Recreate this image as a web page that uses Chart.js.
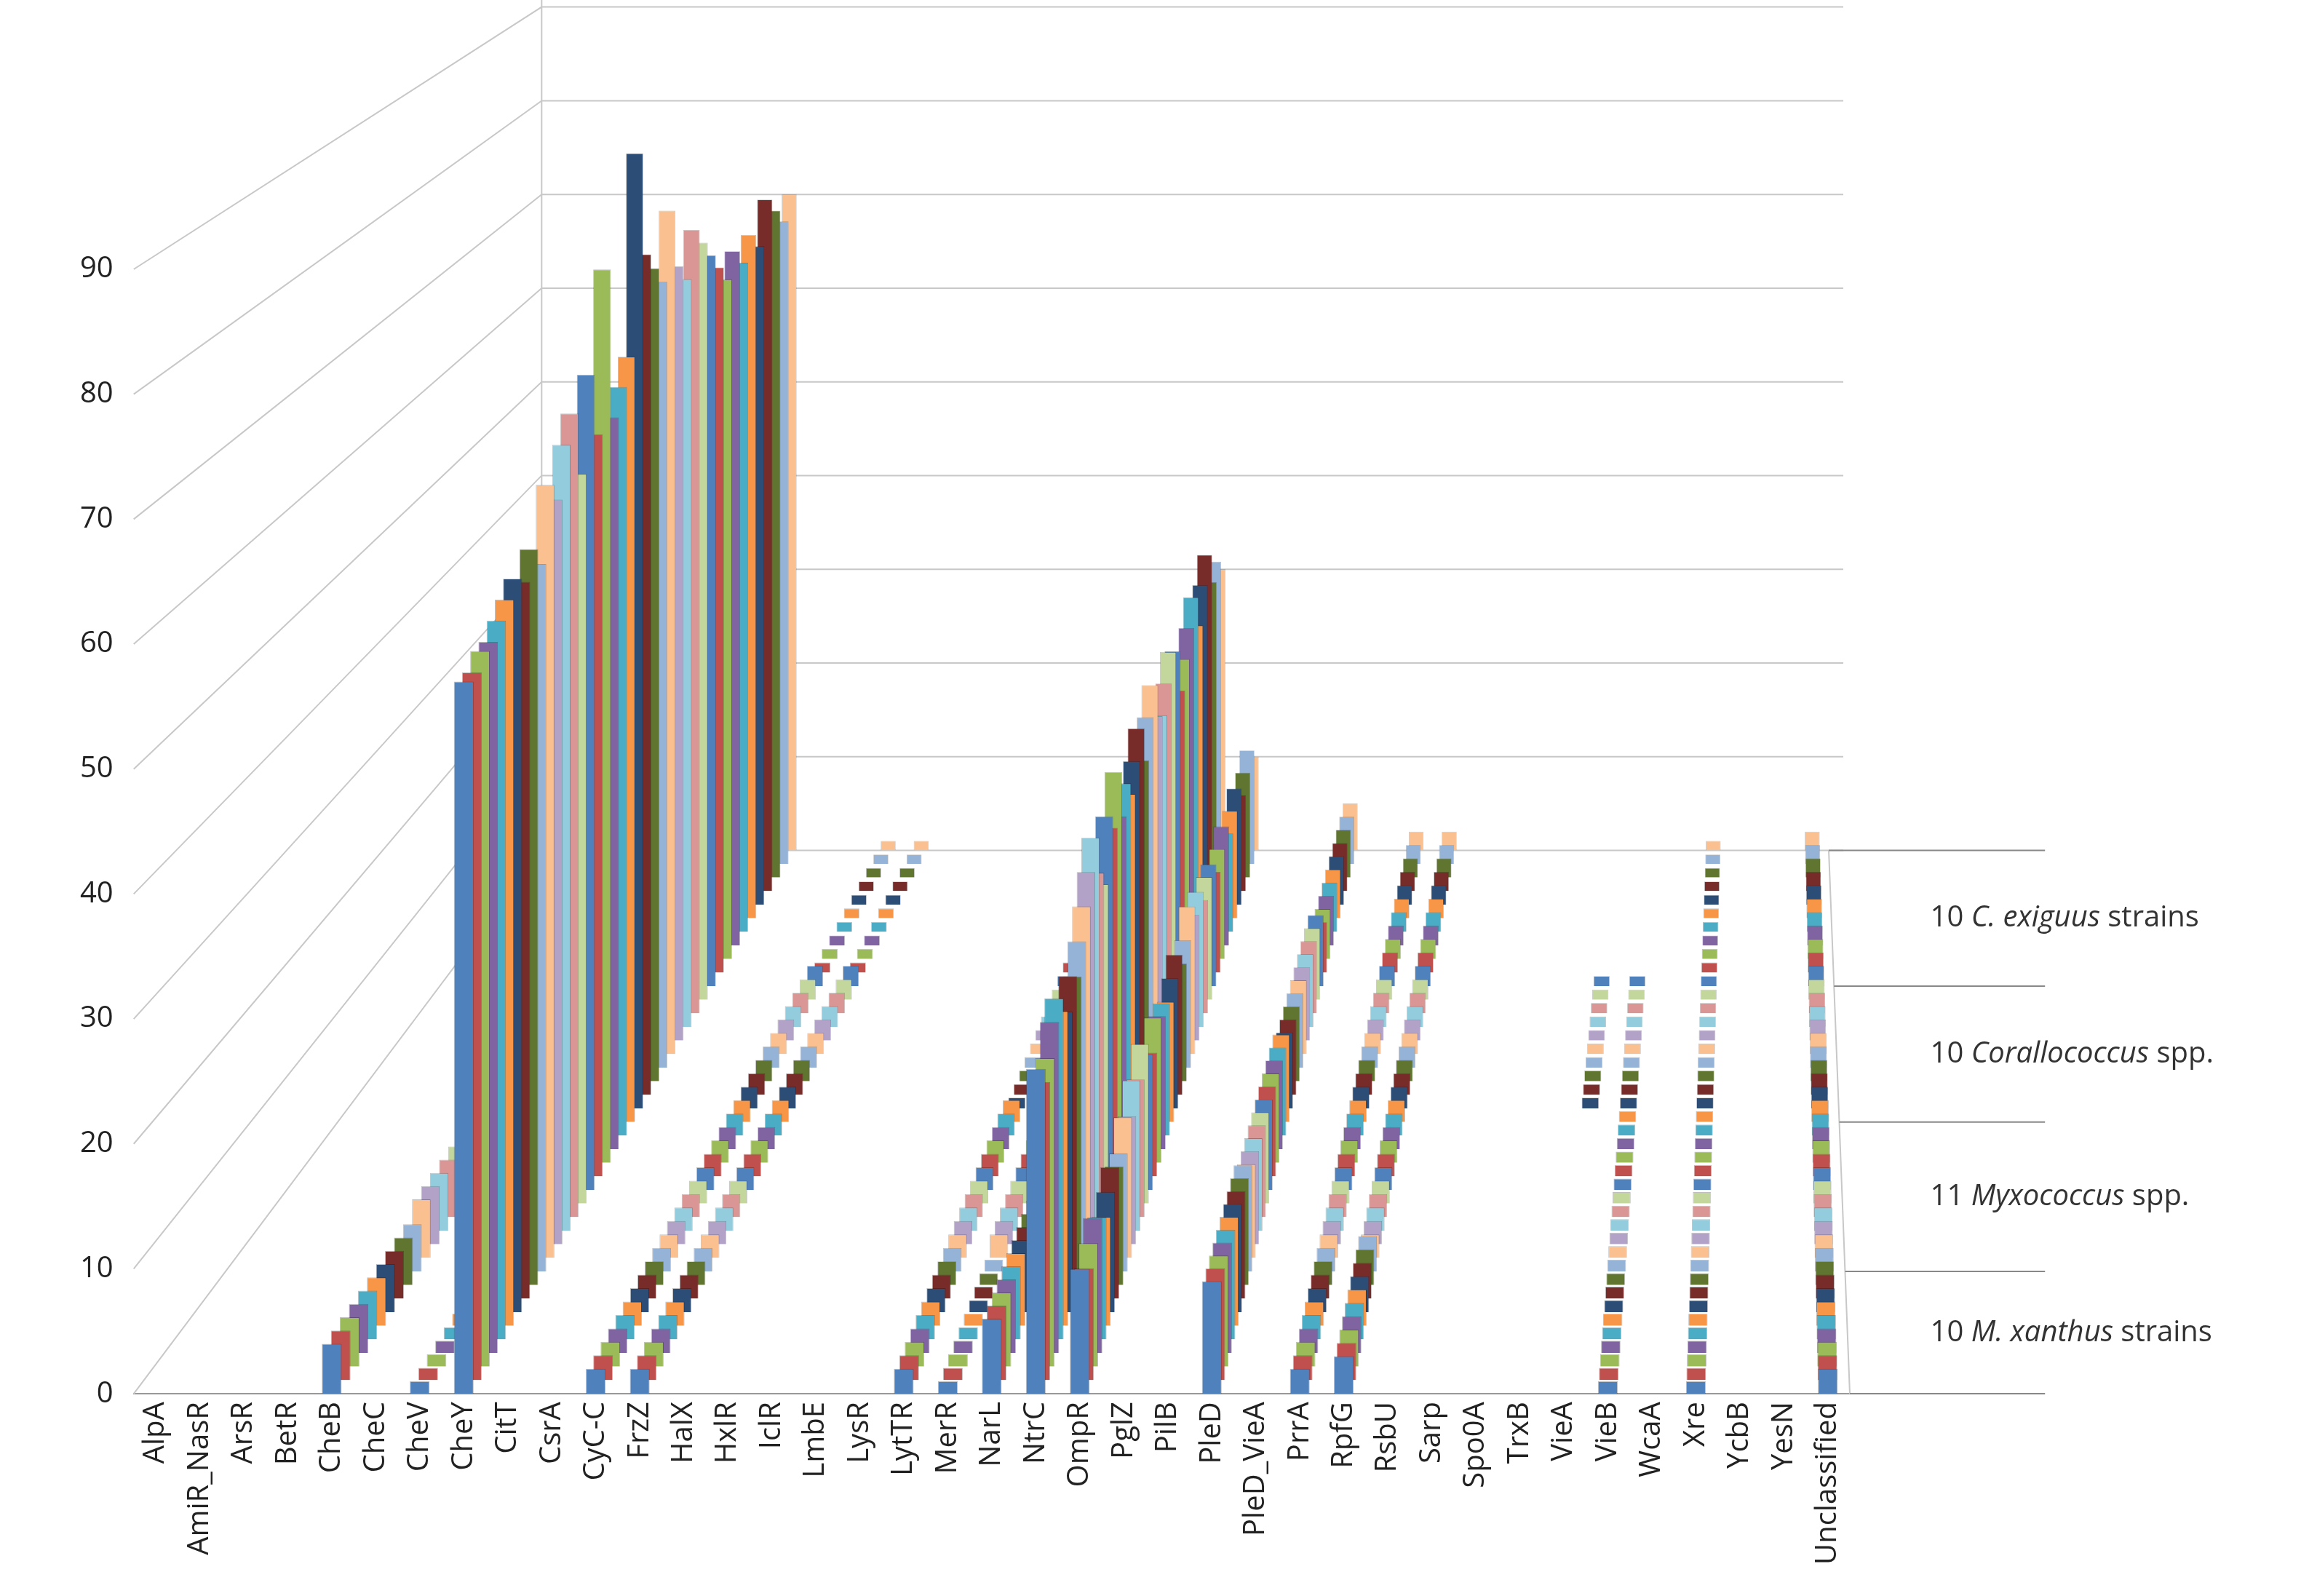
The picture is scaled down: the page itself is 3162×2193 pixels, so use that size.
<!DOCTYPE html>
<html><head><meta charset="utf-8">
<script src="https://cdn.jsdelivr.net/npm/chart.js@4"></script>
<style>html,body{margin:0;background:#fff}#wrap{width:3162px;height:2193px}</style>
</head><body><div id="wrap"><canvas id="c"></canvas></div>
<script>
const categories = ["AlpA","AmiR_NasR","ArsR","BetR","CheB","CheC","CheV","CheY","CitT","CsrA","CyC-C","FrzZ","HalX","HxlR","IclR","LmbE","LysR","LytTR","MerR","NarL","NtrC","OmpR","PglZ","PilB","PleD","PleD_VieA","PrrA","RpfG","RsbU","Sarp","Spo0A","TrxB","VieA","VieB","WcaA","Xre","YcbB","YesN","Unclassified"];
const groupNames = ["10 M. xanthus strains","11 Myxococcus spp.","10 Corallococcus spp.","10 C. exiguus strains"];
const groupLabelParts = [["10 ","M. xanthus"," strains"],["11 ","Myxococcus"," spp."],["10 ","Corallococcus"," spp."],["10 ","C. exiguus"," strains"]];
const groupSizes = [10,11,10,10];
const mxValues  = [0,0,0,0,4,0,1,0,0,0,2,2,0,0,0,0,0,2,1,6,0,0,0,0,9,0,2,3,0,0,0,0,0,1,0,1,0,0,2];
const myxValues = [0,0,0,0,5,0,1,0,0,0,2,2,0,0,0,0,0,2,2,10,0,0,0,0,8,0,2,2,0,0,0,0,0,1,0,1,0,0,2];
const corValues = [0,0,0,0,0,0,0,0,0,0,2,2,0,0,0,0,0,1,1,4,0,0,0,0,7,0,2,2,0,0,0,0,1,1,0,1,0,0,2];
const cexValues = [0,0,0,0,0,0,0,0,0,0,1,1,0,0,0,0,0,1,1,3,0,0,0,0,5,0,2,2,0,0,0,0,0,0,0,1,0,0,2];
const cheYValues = [57,57,58,58,59,60,61,60,62,60, 66,64,68,70,64,72,66,80,66,68,70, 88,78,76,74,80,74,72,76,74,72, 70,68,70,68,70,68,72,70,68,70];
const ntrCValues = [26,24,25,27,28,26,25,27,26,28, 30,32,34,30,28,33,31,35,30,32,30, 32,34,30,33,35,31,30,32,34,33, 28,30,32,34,30,33,35,31,32,30];
const ompRValues = [10,9,10,11,10,9,10,11,10,10, 12,11,13,12,14,12,11,13,12,12,11, 12,13,11,12,14,12,13,11,12,12, 10,11,12,10,11,12,10,11,12,10];
const palette = ["#4F81BD","#C0504D","#9BBB59","#8064A2","#4BACC6","#F79646","#2C4D75","#772C2A","#5F7530","#95B3D7","#FAC090","#B3A2C7","#93CDDD","#D99694","#C3D69B"];

const groupArrays=[mxValues,myxValues,corValues,cexValues];
const N=41; const datasets=[]; let k=0;
groupSizes.forEach((n,g)=>{for(let i=0;i<n;i++){
  const d=groupArrays[g].slice(); d[7]=cheYValues[k]; d[20]=ntrCValues[k]; d[21]=ompRValues[k];
  const col=palette[k%palette.length];
  datasets.push({label:groupNames[g]+" "+(i+1),data:d,backgroundColor:col,borderColor:"rgba(0,0,0,0.25)",borderWidth:1,grouped:false,barPercentage:0.45,categoryPercentage:1});
  k++;}});

const R=3162/1564, C={x:1200*R,y:-530*R};
const sOf=i=>1-0.25*i/(N-1);
const T=(x,y,s)=>({x:C.x+s*(x-C.x),y:C.y+s*(y-C.y)});
const persp={id:'persp',
  beforeDatasetsDraw(ch){const c=ch.ctx,xs=ch.scales.x,ys=ch.scales.y,sb=sOf(N-1);
    c.save();c.strokeStyle="#c8c8c8";c.lineWidth=2;
    for(let v=0;v<=90;v+=10){const y=ys.getPixelForValue(v);const a=T(xs.left,y,sb),b=T(xs.right,y,sb);
      c.beginPath();c.moveTo(xs.left,y);c.lineTo(a.x,a.y);c.lineTo(b.x+20,b.y);c.stroke();}
    const a=T(xs.left,ys.bottom,sb),b=T(xs.left,ys.top,sb);c.beginPath();c.moveTo(a.x,a.y);c.lineTo(b.x,b.y-120);c.stroke();
    const f1=T(xs.right,ys.bottom,sb);
    c.beginPath();c.moveTo(xs.right,ys.bottom);c.lineTo(f1.x,f1.y);c.stroke();
    c.strokeStyle="#888";let acc=0;const bnd=[0];groupSizes.forEach(n=>{acc+=n;bnd.push(acc-1);});
    bnd.forEach(d=>{const p=T(xs.right,ys.bottom,sOf(d));c.beginPath();c.moveTo(p.x,p.y);c.lineTo(1390*R,p.y);c.stroke();});
    c.fillStyle="#333";c.textBaseline="middle";
    for(let g=0;g<4;g++){const p=T(xs.right,ys.bottom,sOf((bnd[g]+bnd[g+1])/2));
      let x=1312*R;groupLabelParts[g].forEach((t,j)=>{c.font=(j==1?"italic ":"")+"40px 'Open Sans'";c.fillText(t,x,p.y);x+=c.measureText(t).width;});}
    c.restore();},
  beforeDatasetDraw(ch,a){const s=sOf(a.index),c=ch.ctx;c.save();c.translate(C.x,C.y);c.scale(s,s);c.translate(-C.x,-C.y);},
  afterDatasetDraw(ch){ch.ctx.restore();}
};
new Chart(document.getElementById('c'),{type:'bar',data:{labels:categories,datasets:datasets},
 options:{responsive:true,maintainAspectRatio:false,animation:false,
  layout:{padding:{left:90,right:620,top:370,bottom:40}},
  plugins:{legend:{display:false},tooltip:{enabled:false}},
  scales:{x:{grid:{display:false},border:{color:"#999",width:2},ticks:{color:"#222",font:{size:40,family:"'Open Sans'"},maxRotation:90,minRotation:90,autoSkip:false}},
   y:{min:0,max:90,grid:{display:false},border:{display:false},ticks:{stepSize:10,color:"#222",font:{size:40,family:"'Open Sans'"},padding:20}}}},
 plugins:[persp]});
</script></body></html>
